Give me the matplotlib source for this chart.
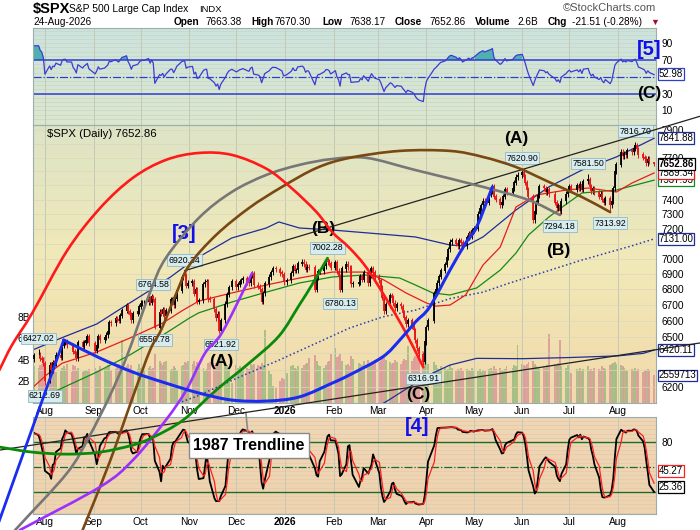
import numpy as np
import pandas as pd
import matplotlib
matplotlib.use("Agg")
import matplotlib.pyplot as plt
import matplotlib.dates as mdates
from matplotlib.colors import LinearSegmentedColormap
from matplotlib.lines import Line2D
from matplotlib.path import Path
from matplotlib.patches import PathPatch
from matplotlib.ticker import NullLocator, NullFormatter
from matplotlib.transforms import blended_transform_factory as blend

plt.rcParams['font.family'] = ['Liberation Sans', 'DejaVu Sans']

# ---------------- data ----------------
HOLIDAYS = ['2025-09-01', '2025-11-27', '2025-12-25', '2026-01-01', '2026-01-19',
            '2026-02-16', '2026-04-03', '2026-05-25', '2026-06-19', '2026-07-03']

# closes before the visible window, only used to warm up RSI / stochastics
hist_close = [6198.01, 6227.42, 6279.35, 6229.98, 6225.52, 6263.26, 6280.46, 6259.75,
              6268.56, 6243.76, 6263.70, 6297.36, 6296.79, 6305.60, 6309.62, 6358.91, 6363.35]

close_jul25 = [6388.64, 6389.77, 6370.86, 6362.90, 6339.39]
close_aug25 = [6238.01, 6329.94, 6299.19, 6345.06, 6340.00, 6389.45, 6373.45, 6445.76, 6466.58,
               6468.54, 6449.80, 6449.15, 6411.37, 6395.78, 6370.17, 6466.91, 6439.32, 6465.94,
               6481.40, 6501.86, 6460.26]
close_sep25 = [6415.54, 6448.26, 6502.08, 6481.50, 6495.15, 6512.61, 6532.04, 6587.47, 6584.29,
               6615.28, 6606.76, 6600.35, 6631.96, 6664.36, 6693.75, 6656.92, 6637.97, 6604.72,
               6643.70, 6661.21, 6688.46]
close_oct25 = [6711.20, 6715.35, 6715.79, 6740.28, 6714.59, 6753.72, 6735.11, 6552.51, 6654.72,
               6644.31, 6671.06, 6629.07, 6664.01, 6735.13, 6735.35, 6699.40, 6738.44, 6791.69,
               6875.16, 6890.89, 6890.59, 6822.34, 6840.20]
close_nov25 = [6851.97, 6771.55, 6796.29, 6720.32, 6728.80, 6832.43, 6846.61, 6850.92, 6737.49,
               6734.11, 6672.41, 6617.32, 6642.16, 6538.76, 6602.99, 6705.12, 6765.88, 6812.61,
               6849.09]
close_dec25 = [6812.63, 6829.37, 6849.72, 6857.12, 6870.40, 6846.51, 6840.51, 6886.68, 6901.00,
               6827.41, 6816.51, 6800.26, 6721.43, 6774.76, 6834.50, 6878.49, 6909.79, 6932.05,
               6929.94, 6905.74, 6896.24, 6845.50]
close_jan26 = [6858.47, 6902.05, 6944.82, 6920.93, 6921.46, 6966.28, 6977.27, 6963.74, 6926.60,
               6944.47, 6940.01, 6796.86, 6875.62, 6913.35, 6915.61, 6950.23, 6978.60, 6978.03,
               6969.01, 6939.03]
close_feb26 = [6976, 6918, 6883, 6798, 6932, 6964, 6942, 6941, 6833, 6836,
               6843, 6881, 6861, 6910, 6837, 6890, 6935, 6908, 6879]
close_mar26 = [6858, 6812, 6745, 6660, 6700, 6760, 6745, 6712, 6680, 6700, 6690,
               6650, 6620, 6580, 6600, 6565, 6540, 6480, 6430, 6395, 6350, 6470]
close_apr26 = [6560, 6600, 6770, 6800, 6840, 6880, 6920, 6960, 7010, 7060, 7110,
               7120, 7100, 7080, 7120, 7105, 7080, 7140, 7165, 7150, 7190]
close_may26 = [7200, 7300, 7340, 7360, 7390, 7380, 7440, 7460, 7490, 7420,
               7400, 7360, 7380, 7420, 7470, 7450, 7480, 7520, 7560, 7575]
close_jun26 = [7590, 7560, 7520, 7470, 7420, 7260, 7320, 7380, 7430, 7490, 7480,
               7455, 7470, 7440, 7380, 7340, 7360, 7320, 7390, 7440, 7470]
close_jul26 = [7490, 7470, 7500, 7480, 7510, 7470, 7530, 7540, 7490, 7460, 7480,
               7450, 7420, 7440, 7400, 7380, 7410, 7360, 7390, 7480, 7600, 7650]
close_aug26 = [7740, 7710, 7730, 7720, 7750, 7740, 7770, 7790, 7760, 7720,
               7700, 7690, 7660, 7690, 7674.37, 7652.86]

# volume, billions of shares
vol_jul25 = [3.4, 3.3, 3.5, 3.6, 3.9]
vol_aug25 = [4.3, 3.4, 3.5, 3.2, 3.4, 2.9, 3.0, 3.3, 3.4, 3.2, 3.6, 2.9, 3.5, 3.4, 3.1,
             3.3, 2.9, 3.0, 3.1, 3.0, 3.2]
vol_sep25 = [3.3, 3.1, 3.0, 3.4, 3.2, 3.3, 3.5, 3.4, 3.1, 3.2, 3.4, 3.6, 3.5, 5.9, 3.4,
             3.6, 3.3, 3.5, 3.1, 3.2, 3.6]
vol_oct25 = [3.3, 3.2, 3.1, 3.3, 3.4, 3.2, 3.3, 4.6, 3.9, 3.7, 3.5, 3.8, 3.9, 3.1, 3.2,
             3.4, 3.3, 3.0, 3.4, 3.5, 3.8, 3.7, 3.9]
vol_nov25 = [3.6, 3.9, 3.4, 3.8, 3.5, 3.3, 3.0, 3.2, 3.7, 3.8, 3.5, 3.7, 3.6, 4.2, 4.5,
             3.4, 3.5, 3.3, 1.9]
vol_dec25 = [3.5, 3.3, 3.4, 3.2, 3.1, 3.3, 3.2, 3.6, 3.5, 3.6, 3.5, 3.4, 3.7, 3.5, 6.8,
             3.0, 2.7, 1.6, 1.4, 2.0, 2.3, 2.2]
vol_jan26 = [2.8, 3.4, 3.5, 3.3, 3.2, 3.4, 3.3, 3.5, 3.6, 3.7, 4.2, 4.5, 3.9, 3.5, 3.4,
             3.3, 3.5, 3.8, 3.9, 4.6]
vol_feb26 = [5.1, 4.3, 4.4, 4.6, 3.9, 3.5, 3.6, 3.4, 4.4, 4.1, 3.7, 3.6, 3.5, 3.9, 4.0,
             3.6, 3.5, 3.7, 4.0]
vol_mar26 = [3.8, 3.9, 4.1, 4.4, 4.0, 3.8, 3.6, 3.7, 4.0, 3.8, 3.6, 3.9, 4.1, 4.0, 5.3,
             3.9, 4.2, 4.4, 4.3, 4.5, 4.8, 4.3]
vol_apr26 = [3.9, 3.6, 3.8, 3.5, 3.3, 3.2, 3.4, 3.3, 3.1, 3.2, 3.5, 3.3, 3.0, 3.2, 3.1,
             3.3, 3.0, 3.2, 3.1, 3.0, 3.3]
vol_may26 = [3.1, 3.0, 3.2, 2.9, 3.1, 3.0, 3.2, 3.3, 3.1, 3.4, 3.2, 3.3, 3.0, 3.1, 3.2,
             3.4, 3.3, 3.5, 3.4, 5.4]
vol_jun26 = [3.6, 3.5, 3.4, 3.6, 3.8, 3.9, 3.6, 3.4, 3.3, 3.2, 3.4, 3.3, 3.5, 6.4, 3.6,
             3.5, 3.7, 5.9, 3.4, 3.3, 3.5]
vol_jul26 = [3.3, 2.8, 3.2, 3.1, 3.3, 3.0, 3.2, 3.4, 3.1, 3.2, 3.0, 3.3, 3.2, 3.1, 3.4,
             3.3, 3.2, 3.5, 3.6, 3.7, 3.8, 3.6]
vol_aug26 = [3.5, 3.4, 3.3, 3.1, 3.0, 3.2, 3.1, 3.3, 3.0, 3.2, 2.9, 3.1, 3.0, 3.2, 3.1,
             2.559713]

# labelled swing highs / lows
pivot_high = {'2025-07-28': 6427.02, '2025-10-09': 6764.58, '2025-10-29': 6920.34,
              '2026-01-28': 7002.28, '2026-06-01': 7620.90, '2026-07-13': 7581.50,
              '2026-08-12': 7816.70}
pivot_low = {'2025-08-01': 6212.69, '2025-10-10': 6550.78, '2025-11-21': 6521.92,
             '2026-02-05': 6780.13, '2026-03-30': 6316.91, '2026-06-25': 7294.18,
             '2026-07-27': 7313.92}
last_open, last_high, last_low = 7663.38, 7670.30, 7638.17

# overlays (date, value)
upper_env = [('2025-07-24', 6420), ('2025-08-13', 6500), ('2025-09-03', 6580), ('2025-09-24', 6712),
             ('2025-10-05', 6781), ('2025-10-20', 6879), ('2025-11-01', 6970), ('2025-11-07', 7010),
             ('2025-11-28', 7137), ('2025-12-20', 7205), ('2025-12-28', 7246), ('2026-01-10', 7205),
             ('2026-01-31', 7191), ('2026-02-24', 7170), ('2026-03-25', 7144), ('2026-04-16', 7090),
             ('2026-04-26', 7083), ('2026-05-07', 7144), ('2026-05-28', 7328), ('2026-06-18', 7490),
             ('2026-07-09', 7610), ('2026-07-31', 7705), ('2026-08-24', 7841.88)]
mid_env = [('2025-10-20', 6090), ('2025-11-06', 6147), ('2025-12-03', 6259), ('2025-12-28', 6359),
           ('2026-02-11', 6555), ('2026-03-04', 6624), ('2026-03-25', 6667), ('2026-04-16', 6740),
           ('2026-05-07', 6781), ('2026-05-24', 6840), ('2026-07-09', 6990), ('2026-08-10', 7085),
           ('2026-08-24', 7131.00)]
lower_env = [('2026-02-24', 6060), ('2026-03-08', 6124), ('2026-03-25', 6223), ('2026-04-05', 6282),
             ('2026-04-16', 6330), ('2026-05-03', 6370), ('2026-06-01', 6368), ('2026-07-01', 6375),
             ('2026-08-01', 6385), ('2026-08-17', 6400), ('2026-08-24', 6420.11)]
ma_red = [('2025-07-24', 6195), ('2025-08-02', 6271), ('2025-08-12', 6341), ('2025-09-03', 6408),
          ('2025-09-24', 6493), ('2025-10-15', 6586), ('2025-10-28', 6667), ('2025-11-07', 6724),
          ('2025-11-28', 6776), ('2025-12-20', 6827), ('2026-01-10', 6872), ('2026-01-31', 6911),
          ('2026-02-21', 6911), ('2026-03-05', 6859), ('2026-03-19', 6776), ('2026-04-01', 6712),
          ('2026-04-07', 6692), ('2026-04-16', 6699), ('2026-04-26', 6763), ('2026-05-07', 6957),
          ('2026-05-18', 7076), ('2026-05-28', 7349), ('2026-06-10', 7433), ('2026-06-29', 7468),
          ('2026-07-13', 7482), ('2026-07-31', 7454), ('2026-08-10', 7518), ('2026-08-24', 7589.34)]
ma_green = [('2025-07-24', 6115), ('2025-08-12', 6194), ('2025-09-03', 6288), ('2025-09-24', 6390),
            ('2025-10-15', 6511), ('2025-11-01', 6617), ('2025-11-07', 6650), ('2025-11-28', 6718),
            ('2025-12-20', 6781), ('2026-01-10', 6840), ('2026-01-31', 6879), ('2026-02-21', 6892),
            ('2026-03-15', 6872), ('2026-03-25', 6827), ('2026-04-05', 6776), ('2026-04-16', 6763),
            ('2026-05-03', 6808), ('2026-05-18', 6924), ('2026-05-28', 7036), ('2026-06-05', 7157),
            ('2026-06-18', 7280), ('2026-06-26', 7345), ('2026-07-09', 7447), ('2026-07-31', 7468),
            ('2026-08-24', 7537.93)]
rsi_last, stoch_k_last, stoch_d_last = 52.98, 25.36, 45.27

# price ticks the chart leaves visible beside its value boxes
price_ticks = [6200, 6500, 6600, 6700, 6800, 6900, 7000, 7200, 7300, 7400, 7700, 7900]

# analyst drawings, anchored in (date, price)
arc_red = [('2025-07-03', 6300), ('2025-07-11', 6450), ('2025-07-24', 6650), ('2025-08-15', 7050),
           ('2025-09-05', 7340), ('2025-09-26', 7554), ('2025-10-17', 7683), ('2025-11-07', 7734),
           ('2025-11-28', 7720), ('2025-12-20', 7620), ('2026-01-05', 7482), ('2026-01-21', 7314),
           ('2026-01-31', 7177), ('2026-02-11', 7070), ('2026-02-22', 6937), ('2026-03-08', 6712),
           ('2026-03-19', 6524), ('2026-03-30', 6316.91)]
arc_gray = [('2025-07-13', 5416), ('2025-08-15', 5715), ('2025-08-29', 5913), ('2025-09-11', 6142),
            ('2025-09-22', 6378), ('2025-10-07', 6781), ('2025-10-17', 7003), ('2025-11-07', 7273),
            ('2025-11-28', 7454), ('2025-12-20', 7575), ('2026-01-10', 7647), ('2026-01-31', 7690),
            ('2026-02-22', 7698), ('2026-03-25', 7610), ('2026-05-07', 7490), ('2026-06-05', 7398),
            ('2026-06-25', 7294.18)]
arc_brown = [('2025-08-25', 5416), ('2025-09-11', 5770), ('2025-09-26', 6142), ('2025-10-07', 6420),
             ('2025-10-14', 6543), ('2025-10-24', 6781), ('2025-11-01', 6957), ('2025-11-18', 7157),
             ('2025-12-09', 7342), ('2025-12-30', 7490), ('2026-01-21', 7625), ('2026-02-11', 7698),
             ('2026-03-15', 7749), ('2026-04-16', 7749), ('2026-05-07', 7705), ('2026-05-28', 7632),
             ('2026-06-18', 7525), ('2026-07-09', 7419), ('2026-07-27', 7313.92)]
arc_purple = [('2025-07-16', 5416), ('2025-09-05', 5641), ('2025-09-26', 5786), ('2025-10-17', 6009),
              ('2025-10-30', 6181), ('2025-11-11', 6402), ('2025-11-22', 6530), ('2025-12-11', 6905)]
arc_green = [('2025-07-03', 5858), ('2025-07-24', 5830), ('2025-08-15', 5819), ('2025-09-05', 5830),
             ('2025-09-26', 5869), ('2025-10-09', 5913), ('2025-10-28', 6009), ('2025-11-18', 6181),
             ('2025-12-09', 6341), ('2025-12-28', 6505), ('2026-01-10', 6699), ('2026-01-18', 6827),
             ('2026-01-28', 7002.28)]
arc_blue = [('2025-08-13', 6481), ('2025-09-05', 6372), ('2025-09-26', 6288), ('2025-10-17', 6223),
            ('2025-11-07', 6165), ('2025-11-28', 6124), ('2025-12-20', 6118), ('2026-01-10', 6142),
            ('2026-01-31', 6223), ('2026-02-11', 6271), ('2026-03-04', 6378), ('2026-03-15', 6481),
            ('2026-03-25', 6593), ('2026-04-03', 6686), ('2026-04-16', 6924), ('2026-04-26', 7103),
            ('2026-05-03', 7212), ('2026-05-13', 7490)]
line_blue = [('2025-07-01', 5420), ('2025-08-13', 6481)]
line_top = [('2025-10-29', 6920.34), ('2026-09-22', 8006)]
line_1987 = [('2025-07-03', 5841), ('2026-09-22', 6463)]

wave_main = [('[3]', '2025-10-29', 7170), ('(B)', '2026-01-25', 7198),
             ('(A)', '2025-11-21', 6354), ('(C)', '2026-03-27', 6158),
             ('(A)', '2026-05-28', 7844), ('(B)', '2026-06-24', 7050)]
wave_rsi = [('[5]', '2026-08-21', 82), ('(C)', '2026-08-21', 30.4)]
wave_sto = [('[4]', '2026-03-26', 99)]

# ---------------- derived series ----------------
dates = pd.bdate_range('2025-07-25', '2026-08-24', freq='C', holidays=HOLIDAYS)
close = np.array(close_jul25 + close_aug25 + close_sep25 + close_oct25 + close_nov25 + close_dec25
                 + close_jan26 + close_feb26 + close_mar26 + close_apr26 + close_may26 + close_jun26
                 + close_jul26 + close_aug26, float)
volume = np.array(vol_jul25 + vol_aug25 + vol_sep25 + vol_oct25 + vol_nov25 + vol_dec25 + vol_jan26
                  + vol_feb26 + vol_mar26 + vol_apr26 + vol_may26 + vol_jun26 + vol_jul26 + vol_aug26)
assert len(dates) == len(close) == len(volume), (len(dates), len(close), len(volume))

prev = np.r_[hist_close[-1], close[:-1]]
opn = prev.copy()
opn[-1] = last_open
WICK = 0.0025
high = np.maximum(opn, close) * (1 + WICK)
low = np.minimum(opn, close) * (1 - WICK)
pos = {d.strftime('%Y-%m-%d'): i for i, d in enumerate(dates)}
for d, v in pivot_high.items():
    high[pos[d]] = v
for d, v in pivot_low.items():
    low[pos[d]] = v
high[-1], low[-1] = last_high, last_low
up = close >= prev
x = mdates.date2num(dates)

full = pd.Series(np.r_[hist_close, close])
delta = full.diff()
ag = delta.clip(lower=0).ewm(alpha=1 / 14, adjust=False).mean()
al = (-delta.clip(upper=0)).ewm(alpha=1 / 14, adjust=False).mean()
rsi = (100 - 100 / (1 + ag / al)).values[len(hist_close):]

hh = pd.Series(np.r_[np.array(hist_close) * (1 + WICK), high]).rolling(14, min_periods=1).max()
ll = pd.Series(np.r_[np.array(hist_close) * (1 - WICK), low]).rolling(14, min_periods=1).min()
raw_k = 100 * (full - ll) / (hh - ll)
stoch_k = raw_k.rolling(3, min_periods=1).mean()
stoch_d = stoch_k.rolling(3, min_periods=1).mean()
stoch_k = stoch_k.values[len(hist_close):]
stoch_d = stoch_d.values[len(hist_close):]


def dn(s):
    return mdates.date2num(pd.Timestamp(s))


def unpack(pts):
    return mdates.date2num(pd.to_datetime([p[0] for p in pts])), np.array([p[1] for p in pts])


# ---------------- figure ----------------
W, H = 700, 530
fig = plt.figure(figsize=(W / 100, H / 100), dpi=100)


def rect(x0, y0, x1, y1):
    return [x0 / W, 1 - y1 / H, (x1 - x0) / W, (y1 - y0) / H]


def backdrop(r, colors):
    bg = fig.add_axes(r, zorder=0)
    cmap = LinearSegmentedColormap.from_list('bg', colors)
    bg.imshow(np.linspace(0, 1, 64)[:, None], cmap=cmap, aspect='auto', extent=[0, 1, 0, 1])
    bg.set_axis_off()


R_RSI, R_MAIN, R_STO = rect(33, 28, 656, 125), rect(33, 125, 656, 403), rect(33, 417, 656, 514)
backdrop(R_RSI, ['#cce3dd', '#dde7cd'])
backdrop(R_MAIN, ['#dde4c6', '#f2e9b8', '#f1d9ab'])
backdrop(R_STO, ['#efd6b5', '#eed3b0'])
ax_rsi = fig.add_axes(R_RSI, zorder=1)
ax_vol = fig.add_axes(R_MAIN, zorder=1)
ax = fig.add_axes(R_MAIN, zorder=2)
ax_sto = fig.add_axes(R_STO, zorder=1)

XLIM = (dn('2025-07-24 10:00'), dn('2026-08-25 05:00'))
months = pd.date_range('2025-08-01', '2026-08-01', freq='MS')
mnum = mdates.date2num(months)
mlabels = ['2026' if m.month == 1 else m.strftime('%b') for m in months]
FRAME = '#9cadae'
GRID = '#c4c9b6'

for a in (ax_rsi, ax_vol, ax, ax_sto):
    a.set_facecolor('none')
    a.set_xlim(*XLIM)
    a.set_xticks(mnum)
    a.tick_params(axis='both', length=0, labelsize=7.3)
    for s in a.spines.values():
        s.set_color(FRAME)
        s.set_linewidth(0.8)
for s in ax_vol.spines.values():
    s.set_visible(False)
for a in (ax_rsi, ax_vol, ax_sto):
    a.grid(axis='x', color=GRID, lw=0.7)

# ---- volume ----
ax_vol.bar(x, volume, width=1.25, color=np.where(up, '#a3bd82', '#dc9c9c'), alpha=0.9, lw=0)
ax_vol.set_ylim(0, 25.86)
ax_vol.set_yticks([2, 4, 6, 8])
ax_vol.set_yticklabels(['2B', '4B', '6B', '8B'])
ax_vol.tick_params(axis='y', pad=2)
ax_vol.tick_params(axis='x', labelbottom=False)

# ---- price ----
ax.set_yscale('log')
ax.set_ylim(6107, 7941)
ax.set_yticks(price_ticks)
ax.set_yticklabels([str(t) for t in price_ticks])
ax.yaxis.set_minor_locator(NullLocator())
ax.yaxis.set_minor_formatter(NullFormatter())
ax.yaxis.tick_right()
ax.tick_params(axis='y', pad=4)
ax.tick_params(axis='x', pad=2.5)
ax.set_xticklabels(mlabels)
ax.hlines(np.arange(6200, 8000, 100), *XLIM, color='#ddd6b8', lw=0.5, zorder=0)

for pts, col, ls, lw in [(upper_env, '#1e2d9a', '-', 0.9), (mid_env, '#2a3cb0', ':', 1.1),
                         (lower_env, '#1e2d9a', '-', 0.9), (ma_green, '#148a14', '-', 0.9),
                         (ma_red, '#e81c1c', '-', 0.9)]:
    xs, ys = unpack(pts)
    ax.plot(xs, ys, color=col, ls=ls, lw=lw, zorder=2)

ccol = np.where(up, '#000000', '#e8141a')
ax.vlines(x, low, high, colors=ccol, lw=0.7, zorder=3)
ax.vlines(x, np.minimum(opn, close), np.maximum(opn, close) * 1.0004, colors=ccol, lw=1.3, zorder=3)

box = dict(boxstyle='square,pad=0.15', fc='#d6ecef', ec='#93b8c1', lw=0.6)
for d, v in pivot_high.items():
    ax.annotate(f'{v:.2f}', (dn(d), v), xytext=(0, 7.5), textcoords='offset points', ha='center',
                va='center', fontsize=6.3, bbox=box, zorder=6, annotation_clip=False)
for d, v in pivot_low.items():
    ax.annotate(f'{v:.2f}', (dn(d), v), xytext=(0, -8), textcoords='offset points', ha='center',
                va='center', fontsize=6.3, bbox=box, zorder=6, annotation_clip=False)

ax.text(0.022, 0.985, '$SPX (Daily) %.2f' % close[-1], transform=ax.transAxes, ha='left',
        va='top', fontsize=8.2, zorder=7)


def wave(a, txt, d, v):
    big = txt.startswith('[')
    a.text(dn(d), v, txt, color='#1010ee' if big else 'black', fontsize=14.5 if big else 12.5,
           fontweight='bold', ha='center', va='center', zorder=7, clip_on=False)


for txt, d, v in wave_main:
    wave(ax, txt, d, v)


def value_box(a, ytrans, val, text, ec, z, bold=False):
    a.text(1.004, val, text, transform=blend(a.transAxes, ytrans), ha='left', va='center',
           fontsize=7.0, fontweight='bold' if bold else 'normal', zorder=z, clip_on=False,
           bbox=dict(boxstyle='square,pad=0.1', fc='white', ec=ec, lw=0.9))


value_box(ax, ax.transData, mid_env[-1][1], '%.2f' % mid_env[-1][1], '#1e2d9a', 8)
value_box(ax, ax.transData, lower_env[-1][1], '%.2f' % lower_env[-1][1], '#1e2d9a', 8)
value_box(ax, ax_vol.transData, volume[-1], '%d' % round(volume[-1] * 1e6), '#1e2d9a', 8)
value_box(ax, ax.transData, ma_green[-1][1], '%.2f' % ma_green[-1][1], '#148a14', 9)
value_box(ax, ax.transData, ma_red[-1][1], '%.2f' % ma_red[-1][1], '#e81c1c', 10)
value_box(ax, ax.transData, upper_env[-1][1], '%.2f' % upper_env[-1][1], '#1e2d9a', 10)
value_box(ax, ax.transData, close[-1], '%.2f' % close[-1], 'black', 11, bold=True)

# ---- RSI ----
ax_rsi.set_ylim(-7.3, 108)
ax_rsi.hlines(np.arange(0, 106, 5), *XLIM, color='#c7d6c9', lw=0.5, zorder=0)
ax_rsi.axhline(70, color='#2d3fd0', lw=1.1)
ax_rsi.axhline(30, color='#2d3fd0', lw=1.1)
ax_rsi.axhline(50, color='#2d3fd0', lw=0.9, ls='-.')
ax_rsi.fill_between(x, 70, rsi, where=rsi > 70, interpolate=True, color='#4fb0b0', lw=0)
ax_rsi.plot(x, rsi, color='#3b3bd6', lw=0.9)
ax_rsi.set_yticks([10, 30, 70, 90])
ax_rsi.yaxis.tick_right()
ax_rsi.tick_params(axis='y', pad=4)
ax_rsi.tick_params(axis='x', labelbottom=False)
value_box(ax_rsi, ax_rsi.transData, rsi_last, '%.2f' % rsi_last, '#2d3fd0', 8)
for txt, d, v in wave_rsi:
    wave(ax_rsi, txt, d, v)

# ---- stochastics ----
ax_sto.set_ylim(-6.8, 110)
ax_sto.hlines(np.arange(-5, 110, 5), *XLIM, color='#e3c9a6', lw=0.5, zorder=0)
ax_sto.axhline(80, color='#1d6b2a', lw=1.0)
ax_sto.axhline(20, color='#1d6b2a', lw=1.0)
ax_sto.axhline(50, color='#1d6b2a', lw=0.9, ls='-.')
ax_sto.plot(x, stoch_k, color='black', lw=1.3)
ax_sto.plot(x, stoch_d, color='#ff2020', lw=0.9)
ax_sto.set_yticks([80])
ax_sto.yaxis.tick_right()
ax_sto.tick_params(axis='y', pad=4)
ax_sto.tick_params(axis='x', pad=2.5)
ax_sto.set_xticklabels(mlabels)
value_box(ax_sto, ax_sto.transData, stoch_d_last, '%.2f' % stoch_d_last, '#ff2020', 8)
value_box(ax_sto, ax_sto.transData, stoch_k_last, '%.2f' % stoch_k_last, 'black', 9)
for txt, d, v in wave_sto:
    wave(ax_sto, txt, d, v)

for a in (ax, ax_sto):
    for lab in a.get_xticklabels():
        if lab.get_text() == '2026':
            lab.set_fontweight('bold')

tip_date = '2025-12-07'
t0, t1 = unpack(line_1987)
tip_price = np.exp(np.interp(dn(tip_date), t0, np.log(t1)))
ax_sto.annotate('1987 Trendline', xy=(dn(tip_date), tip_price), xycoords=ax.transData,
                xytext=(dn('2025-12-09'), 76), textcoords='data', ha='center', va='center',
                fontsize=11.5, fontweight='bold', zorder=8, annotation_clip=False,
                bbox=dict(boxstyle='square,pad=0.3', fc='white', ec='#8a8a8a', lw=1),
                arrowprops=dict(arrowstyle='-', color='#8a8a8a', lw=1.2, shrinkA=0, shrinkB=0))


# ---- analyst curves, drawn over every panel ----
def draw_curve(pts, color, lw):
    xs, ys = unpack(pts)
    P = np.column_stack([xs, np.log(ys)])
    E = np.vstack([2 * P[0] - P[1], P, 2 * P[-1] - P[-2]])
    verts, codes = [P[0]], [Path.MOVETO]
    for i in range(len(P) - 1):
        c1 = E[i + 1] + (E[i + 2] - E[i]) / 6
        c2 = E[i + 2] - (E[i + 3] - E[i + 1]) / 6
        verts += [c1, c2, E[i + 2]]
        codes += [Path.CURVE4] * 3
    verts = np.array(verts)
    verts[:, 1] = np.exp(verts[:, 1])
    fig.add_artist(PathPatch(Path(verts, codes), fill=False, ec=color, lw=lw,
                             transform=ax.transData, zorder=12, capstyle='round'))


def draw_line(pts, color, lw):
    xs, ys = unpack(pts)
    fig.add_artist(Line2D(xs, ys, color=color, lw=lw, transform=ax.transData, zorder=11))


draw_line(line_1987, '#222222', 0.9)
draw_line(line_top, '#222222', 0.9)
draw_curve(arc_gray, '#777777', 1.9)
draw_curve(arc_brown, '#7a4812', 1.9)
draw_curve(arc_purple, '#9b30ff', 1.9)
draw_curve(arc_green, '#0a8a0a', 2.0)
draw_curve(arc_red, '#ff1a1a', 1.9)
draw_curve(arc_blue, '#1a2cf0', 2.2)
draw_line(line_blue, '#1a2cf0', 2.0)


# ---- header ----
def ftext(xp, yp, s, **kw):
    fig.text(xp / W, 1 - yp / H, s, va='center', **kw)


ftext(33, 9, '$SPX', fontsize=10.5, fontweight='bold')
ftext(69, 9, 'S&P 500 Large Cap Index', fontsize=7.4)
ftext(199, 9, 'INDX', fontsize=6.8)
ftext(656, 8, '\u00a9StockCharts.com', fontsize=8, color='#555555', ha='right')
ftext(33, 22, dates[-1].strftime('%d-%b-%Y'), fontsize=7.2)
chg = close[-1] - prev[-1]
header = [(174, 'Open', True), (206, '%.2f' % opn[-1], False), (251, 'High', True),
          (275, '%.2f' % high[-1], False), (322, 'Low', True), (350, '%.2f' % low[-1], False),
          (395, 'Close', True), (430, '%.2f' % close[-1], False), (475, 'Volume', True),
          (517, '%.1fB' % volume[-1], False), (548, 'Chg', True),
          (572, '%.2f (%.2f%%)' % (chg, 100 * chg / prev[-1]), False)]
for xp, s, b in header:
    ftext(xp, 22, s, fontsize=7.2, fontweight='bold' if b else 'normal')
ftext(650, 22, '\u25bc', fontsize=6.5, color='#a0102a')

fig.savefig('out.png', dpi=100)
